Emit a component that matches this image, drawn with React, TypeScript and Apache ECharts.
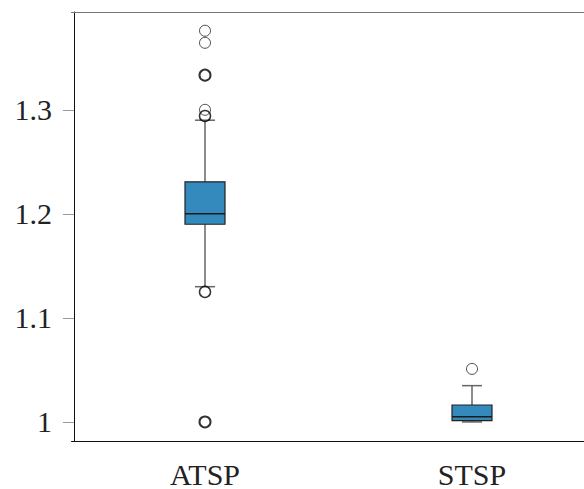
import React, { useEffect, useRef } from "react";
import * as echarts from "echarts";

const categories = ["ATSP", "STSP"];
const lowWhisker = [1.13, 1.0];
const q1 = [1.19, 1.0013];
const median = [1.2, 1.0051];
const q3 = [1.2308, 1.0163];
const highWhisker = [1.29, 1.0349];
const atspOutliers = [1.376, 1.3644, 1.3333, 1.3333, 1.3333, 1.3333, 1.3, 1.2941, 1.2941, 1.125, 1.125, 1.0, 1.0, 1.0, 1.0];
const stspOutliers = [1.051];
const yTicks = [1, 1.1, 1.2, 1.3];

export default function App() {
  const ref = useRef<HTMLDivElement>(null);
  useEffect(() => {
    document.body.style.margin = "0";
    const chart = echarts.init(ref.current!, null, { renderer: "svg" });
    const boxData = categories.map((_, i) => [i, lowWhisker[i], q1[i], median[i], q3[i], highWhisker[i]]);
    const groups = [atspOutliers, stspOutliers];
    const outlierData: any[] = [];
    groups.forEach((vals, ci) => {
      const counts = new Map<number, number>();
      vals.forEach((v) => counts.set(v, (counts.get(v) || 0) + 1));
      counts.forEach((n, v) => {
        outlierData.push({
          value: [ci, v],
          itemStyle: { borderWidth: n > 2 ? 2 : n > 1 ? 1.5 : 1, borderColor: n > 1 ? "#000" : "#222" },
        });
      });
    });
    const font = "'Liberation Serif', 'DejaVu Serif', serif";
    chart.setOption({
      animation: false,
      backgroundColor: "#ffffff",
      grid: { left: 71.5, top: 12, width: 534, height: 429, outerBoundsMode: "none", containLabel: false },
      xAxis: [
        {
          type: "category",
          data: categories,
          position: "bottom",
          axisLine: { lineStyle: { color: "#111", width: 1 } },
          axisTick: { alignWithLabel: true, length: 10, lineStyle: { color: "#999", width: 1 } },
          axisLabel: { fontSize: 30, fontFamily: font, color: "#222", margin: 18 },
          splitLine: { show: false },
        },
        {
          type: "category",
          data: categories,
          position: "top",
          axisLine: { lineStyle: { color: "#777", width: 1 } },
          axisTick: { show: false },
          axisLabel: { show: false },
          splitLine: { show: false },
        },
      ],
      yAxis: {
        type: "value",
        min: 0.9817,
        max: 1.394,
        offset: -2.5,
        axisLine: { show: true, lineStyle: { color: "#111", width: 1 } },
        axisTick: { show: true, length: 11, customValues: yTicks, lineStyle: { color: "#999", width: 1 } },
        axisLabel: { customValues: yTicks, fontSize: 30, fontFamily: font, color: "#222", margin: 22 },
        splitLine: { show: false },
      },
      series: [
        {
          type: "custom",
          xAxisIndex: 0,
          data: boxData,
          encode: { x: 0, y: [1, 2, 3, 4, 5] },
          renderItem: (params: any, api: any) => {
            const c = api.value(0);
            const pLow = api.coord([c, api.value(1)]);
            const pQ1 = api.coord([c, api.value(2)]);
            const pMed = api.coord([c, api.value(3)]);
            const pQ3 = api.coord([c, api.value(4)]);
            const pHigh = api.coord([c, api.value(5)]);
            const x = pLow[0];
            const hw = 20;
            const cw = 10;
            const wStyle = { stroke: "#666", lineWidth: 1.5 };
            return {
              type: "group",
              children: [
                { type: "line", shape: { x1: x, y1: pQ3[1], x2: x, y2: pHigh[1] }, style: wStyle },
                { type: "line", shape: { x1: x, y1: pQ1[1], x2: x, y2: pLow[1] }, style: wStyle },
                { type: "line", shape: { x1: x - cw, y1: pHigh[1], x2: x + cw, y2: pHigh[1] }, style: wStyle },
                { type: "line", shape: { x1: x - cw, y1: pLow[1], x2: x + cw, y2: pLow[1] }, style: wStyle },
                {
                  type: "rect",
                  shape: { x: x - hw, y: pQ3[1], width: 2 * hw, height: pQ1[1] - pQ3[1] },
                  style: { fill: "#348ABD", stroke: "#222", lineWidth: 1.2 },
                },
                {
                  type: "line",
                  shape: { x1: x - hw, y1: pMed[1], x2: x + hw, y2: pMed[1] },
                  style: { stroke: "#1a1a1a", lineWidth: 1.5 },
                },
              ],
            };
          },
        },
        {
          type: "scatter",
          xAxisIndex: 0,
          data: outlierData,
          symbol: "circle",
          symbolSize: 11,
          itemStyle: { color: "rgba(0,0,0,0)", borderColor: "#222", borderWidth: 1 },
        },
      ],
    });
    return () => chart.dispose();
  }, []);
  return <div ref={ref} style={{ width: 584, height: 489 }} />;
}
